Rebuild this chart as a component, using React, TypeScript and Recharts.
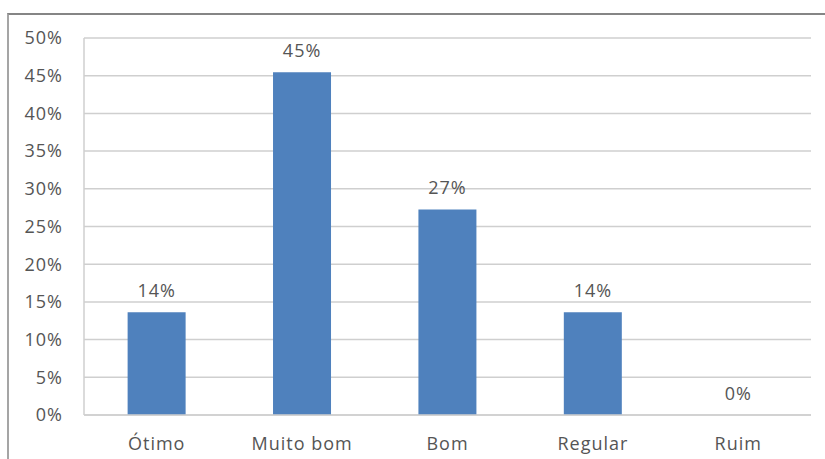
import React from "react";
import { ComposedChart, Bar, Line, XAxis, YAxis, CartesianGrid, LabelList } from "recharts";

const categories = ["Ótimo", "Muito bom", "Bom", "Regular", "Ruim"];
const values = [13.64, 45.45, 27.27, 13.64, 0];
const yTicks = [0, 5, 10, 15, 20, 25, 30, 35, 40, 45, 50];

const data = categories.map((name, i) => ({ name, value: values[i] }));

const FONT = "'Open Sans', 'Liberation Sans', sans-serif";
const TEXT = "#555555";
const textStyle = { fill: TEXT, fontSize: 18, fontFamily: FONT, letterSpacing: 1 };

export default function App() {
  return (
    <div style={{ position: "absolute", left: 0, top: 0, width: 825, height: 459, background: "#fff", overflow: "hidden" }}>
      <div
        style={{
          position: "absolute",
          left: 7,
          top: 13,
          width: 830,
          height: 460,
          borderTop: "2px solid #858585",
          borderLeft: "2px solid #a5a5a5",
          boxSizing: "border-box",
        }}
      />
      <div style={{ position: "absolute", left: 0, top: 0 }}>
        <ComposedChart
          width={825}
          height={459}
          data={data}
          margin={{ top: 38, right: 14, bottom: 14, left: 24 }}
          barCategoryGap="30%"
        >
          <CartesianGrid vertical={false} stroke="#cfcfcf" strokeWidth={1.5} />
          <XAxis
            dataKey="name"
            height={30}
            axisLine={{ stroke: "#cfcfcf", strokeWidth: 1.5 }}
            tickLine={false}
            tickSize={0}
            tickMargin={22}
            tick={textStyle}
          />
          <YAxis
            width={60}
            domain={[0, 50]}
            ticks={yTicks}
            interval={0}
            tickFormatter={(v: number) => `${v}%`}
            axisLine={{ stroke: "#cfcfcf", strokeWidth: 1.5 }}
            tickLine={false}
            tickSize={0}
            tickMargin={21}
            tick={textStyle}
          />
          <Bar dataKey="value" fill="#4F81BD" isAnimationActive={false} />
          <Line
            dataKey="value"
            stroke="none"
            dot={false}
            activeDot={false}
            isAnimationActive={false}
          >
            <LabelList
              dataKey="value"
              position="top"
              offset={15}
              formatter={(v: number) => `${Math.round(v)}%`}
              style={textStyle}
            />
          </Line>
        </ComposedChart>
      </div>
    </div>
  );
}
